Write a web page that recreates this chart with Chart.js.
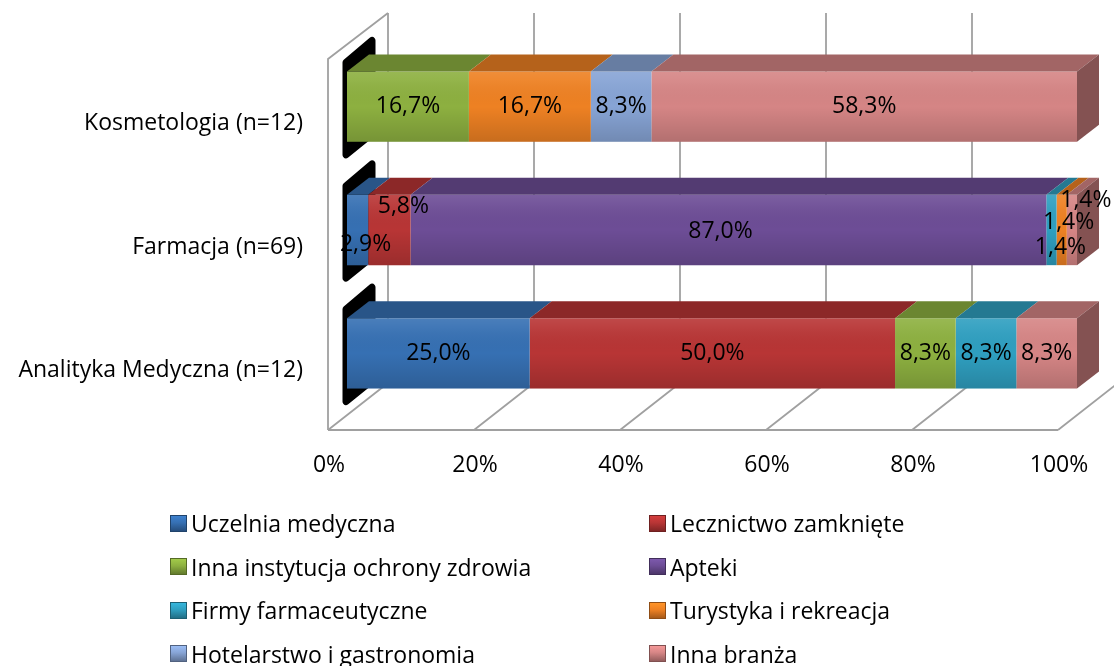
<!DOCTYPE html>
<html>
<head>
<meta charset="utf-8">
<script src="https://cdn.jsdelivr.net/npm/chart.js@4.4.0/dist/chart.umd.min.js"></script>
<style>
  html, body { margin: 0; padding: 0; background: #fff; }
  #wrap { position: relative; width: 1114px; height: 666px; overflow: hidden; }
  #legend { position: absolute; left: 0; top: 0; width: 1114px; height: 666px; pointer-events: none;
            font-family: "Open Sans", sans-serif; font-size: 23px; color: #000; }
  .item { position: absolute; display: flex; align-items: center; white-space: nowrap; transform: translateY(-50%); }
  .box { width: 17px; height: 17px; margin-right: 4px; box-sizing: border-box; }
</style>
</head>
<body>
<div id="wrap">
  <canvas id="chart" width="1114" height="666"></canvas>
  <div id="legend"></div>
</div>
<script>
// categories and series (percent of each group)
const categories = ["Kosmetologia (n=12)", "Farmacja (n=69)", "Analityka Medyczna (n=12)"];
const seriesNames = ["Uczelnia medyczna", "Lecznictwo zamknięte", "Inna instytucja ochrony zdrowia", "Apteki",
  "Firmy farmaceutyczne", "Turystyka i rekreacja", "Hotelarstwo i gastronomia", "Inna branża"];
const uczelnia = [0, 2.9, 25.0];
const lecznictwo = [0, 5.8, 50.0];
const innaInstytucja = [16.7, 0, 8.3];
const apteki = [0, 87.0, 0];
const firmy = [0, 1.4, 8.3];
const turystyka = [16.7, 1.4, 0];
const hotelarstwo = [8.3, 0, 0];
const innaBranza = [58.3, 1.4, 8.3];
const xTicks = [0, 20, 40, 60, 80, 100];

const series = [uczelnia, lecznictwo, innaInstytucja, apteki, firmy, turystyka, hotelarstwo, innaBranza];
const colors = ["#3670B3", "#B83535", "#8DB040", "#6D4D96", "#2F9FC0", "#EE8123", "#87A4D5", "#D58585"];

// 100% stacked: normalise each group to its total
const totals = categories.map((c, i) => series.reduce((s, arr) => s + arr[i], 0));

const DEPTH_X = 22, DEPTH_Y = -17;

const shade = (hex, f) => {
  const n = parseInt(hex.slice(1), 16);
  const r = Math.min(255, Math.round(((n >> 16) & 255) * f)),
    g = Math.min(255, Math.round(((n >> 8) & 255) * f)),
    b = Math.min(255, Math.round((n & 255) * f));
  return `rgb(${r},${g},${b})`;
};

// label nudges where Excel moved overlapping labels (Farmacja row)
const labelNudge = { "0-1": [8, 14], "1-1": [14, -24], "3-1": [-8, 1], "4-1": [9, 17], "5-1": [7, -8], "7-1": [14, -30] };

const wallsPlugin = {
  id: "walls",
  beforeDatasetsDraw(chart) {
    const { ctx, chartArea, scales } = chart;
    const x = scales.x;
    const floorFront = chartArea.bottom + 15, floorBack = floorFront - 47;
    const top = chartArea.top - 32;
    ctx.save();
    ctx.strokeStyle = "#A0A0A0";
    ctx.lineWidth = 1.8;
    xTicks.forEach(v => {
      const px = x.getPixelForValue(v);
      ctx.beginPath();
      ctx.moveTo(px - 19, floorFront);
      ctx.lineTo(px + 41, floorBack);
      ctx.lineTo(px + 41, top);
      ctx.stroke();
    });
    const x0 = x.getPixelForValue(0), x1 = x.getPixelForValue(100);
    ctx.beginPath();
    ctx.moveTo(x0 - 19, floorFront);
    ctx.lineTo(x1 - 19, floorFront);
    ctx.moveTo(x0 - 19, floorFront);
    ctx.lineTo(x0 - 19, top + 46);
    ctx.lineTo(x0 + 41, top);
    ctx.stroke();

    // black left end caps
    const meta = chart.getDatasetMeta(0);
    ctx.fillStyle = "#000";
    ctx.strokeStyle = "#000";
    ctx.lineWidth = 7;
    ctx.lineJoin = "round";
    meta.data.forEach(bar => {
      const yTop = bar.y - bar.height / 2, yBot = bar.y + bar.height / 2;
      ctx.beginPath();
      ctx.moveTo(x0 - 1, yTop - 9);
      ctx.lineTo(x0 + 25, yTop - 31);
      ctx.lineTo(x0 + 25, yBot - 8);
      ctx.lineTo(x0 - 1, yBot + 13);
      ctx.closePath();
      ctx.fill();
      ctx.stroke();
    });
    ctx.restore();
  },
  afterDatasetsDraw(chart) {
    const { ctx } = chart;
    ctx.save();
    chart.data.datasets.forEach((ds, di) => {
      const meta = chart.getDatasetMeta(di);
      meta.data.forEach((bar, i) => {
        if (!ds.raw[i]) return;
        const xa = bar.base, xb = bar.x;
        const yTop = bar.y - bar.height / 2, yBot = bar.y + bar.height / 2;
        // top face
        ctx.fillStyle = shade(colors[di], 0.76);
        ctx.beginPath();
        ctx.moveTo(xa, yTop);
        ctx.lineTo(xb, yTop);
        ctx.lineTo(xb + DEPTH_X, yTop + DEPTH_Y);
        ctx.lineTo(xa + DEPTH_X, yTop + DEPTH_Y);
        ctx.closePath();
        ctx.fill();
        // front shading
        const g = ctx.createLinearGradient(0, yTop, 0, yBot);
        g.addColorStop(0, "rgba(255,255,255,0.10)");
        g.addColorStop(0.12, "rgba(255,255,255,0.06)");
        g.addColorStop(0.5, "rgba(0,0,0,0)");
        g.addColorStop(1, "rgba(0,0,0,0.16)");
        ctx.fillStyle = g;
        ctx.fillRect(xa, yTop, xb - xa, yBot - yTop);
        // right side of the last segment
        const later = chart.data.datasets.slice(di + 1).some(d => d.raw[i] > 0);
        if (!later) {
          ctx.fillStyle = shade(colors[di], 0.62);
          ctx.beginPath();
          ctx.moveTo(xb, yTop);
          ctx.lineTo(xb + DEPTH_X, yTop + DEPTH_Y);
          ctx.lineTo(xb + DEPTH_X, yBot + DEPTH_Y);
          ctx.lineTo(xb, yBot);
          ctx.closePath();
          ctx.fill();
        }
      });
    });
    // value labels
    ctx.font = '23px "Open Sans"';
    ctx.fillStyle = "#000";
    ctx.textAlign = "center";
    ctx.textBaseline = "middle";
    chart.data.datasets.forEach((ds, di) => {
      chart.getDatasetMeta(di).data.forEach((bar, i) => {
        const v = ds.raw[i];
        if (!v) return;
        const n = labelNudge[di + "-" + i] || [0, 0];
        ctx.fillText(v.toFixed(1).replace(".", ",") + "%", (bar.base + bar.x) / 2 + n[0], bar.y + n[1]);
      });
    });
    ctx.restore();
  }
};

const chart = new Chart(document.getElementById("chart"), {
  type: "bar",
  data: {
    labels: categories,
    datasets: series.map((arr, k) => ({
      label: seriesNames[k],
      data: arr.map((v, i) => v / totals[i] * 100),
      raw: arr,
      backgroundColor: colors[k],
      borderWidth: 0,
      barPercentage: 0.57,
      categoryPercentage: 1,
    })),
  },
  options: {
    indexAxis: "y",
    responsive: false,
    animation: false,
    layout: { padding: { top: 45, right: 37, bottom: 171, left: 0 } },
    plugins: { legend: { display: false }, tooltip: { enabled: false } },
    scales: {
      x: {
        stacked: true,
        min: 0,
        max: 100,
        grid: { display: false },
        border: { display: false },
        afterFit: s => { s.height = 80; s.paddingLeft = 0; s.paddingRight = 0; },
        afterBuildTicks: s => { s.ticks = xTicks.map(v => ({ value: v })); },
        ticks: {
          callback: v => v + "%",
          labelOffset: -18,
          padding: 29,
          color: "#000",
          maxRotation: 0,
          font: { family: "Open Sans", size: 23 },
        },
      },
      y: {
        stacked: true,
        grid: { display: false },
        border: { display: false },
        afterFit: s => { s.width = 347; s.paddingTop = 0; s.paddingBottom = 0; },
        ticks: {
          padding: 36,
          labelOffset: 17,
          color: "#000",
          font: { family: "Open Sans", size: 23 },
        },
      },
    },
  },
  plugins: [wallsPlugin],
});

// legend, two columns, filled row by row
const legend = document.getElementById("legend");
chart.data.datasets.forEach((ds, k) => {
  const item = document.createElement("div");
  item.className = "item";
  item.style.left = (k % 2 === 0 ? 170 : 649) + "px";
  item.style.top = (523 + Math.floor(k / 2) * 43.5) + "px";
  const c = colors[k];
  item.innerHTML = `<span class="box" style="background:linear-gradient(${shade(c, 1.15)}, ${c} 45%, ${shade(c, 0.7)});border:1px solid ${shade(c, 0.6)}"></span>${ds.label}`;
  legend.appendChild(item);
});
</script>
</body>
</html>
